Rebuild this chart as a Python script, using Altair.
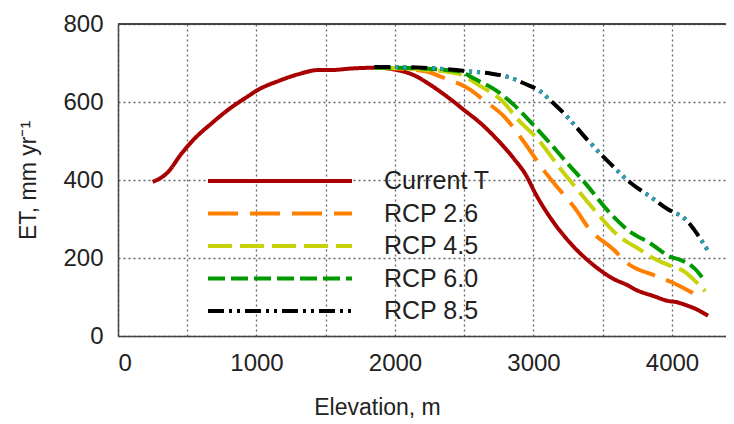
import altair as alt
import pandas as pd

# ---- data ----
series_names = ["Current T", "RCP 2.6", "RCP 4.5", "RCP 6.0", "RCP 8.5"]

elev_current = [250, 360, 455, 555, 675, 795, 940, 1010, 1160, 1300, 1450, 1540, 1690, 1880, 2000,
                2135, 2255, 2375, 2500, 2620, 2740, 2860, 2950, 3010, 3150, 3290, 3440, 3580, 3680,
                3730, 3870, 3970, 4030, 4110, 4180, 4260]
et_current = [395, 420, 466, 507, 545, 580, 615, 631, 654, 671, 682, 682, 686, 688, 683,
              669, 644, 614, 579, 545, 503, 454, 410, 368, 289, 229, 180, 146, 130,
              120, 102, 90, 87, 78, 68, 52]

elev_rcp26 = [1850, 2000, 2230, 2330, 2545, 2640, 2790, 2930, 3076, 3150, 3317, 3390, 3580, 3680,
              3870, 3990, 4100, 4200]
et_rcp26 = [688, 686, 678, 665, 631, 605, 562, 498, 424, 391, 319, 280, 221, 186,
            156, 139, 120, 100]

elev_rcp45 = [1850, 2000, 2250, 2450, 2620, 2790, 2880, 3030, 3200, 3320, 3440, 3610, 3770, 3870,
              3990, 4090, 4170, 4240]
et_rcp45 = [688, 687, 682, 673, 640, 597, 558, 505, 426, 374, 323, 258, 221, 199,
            180, 165, 140, 115]

elev_rcp60 = [1850, 2000, 2300, 2470, 2570, 2740, 2860, 3000, 3110, 3245, 3390, 3520, 3680, 3850,
              3990, 4060, 4160, 4240]
et_rcp60 = [688, 688, 684, 678, 660, 627, 592, 541, 498, 443, 385, 328, 272, 236,
            203, 195, 174, 140]

elev_rcp85 = [1850, 2000, 2200, 2380, 2520, 2690, 2810, 2930, 3050, 3120, 3244, 3389, 3560, 3700,
              3845, 3970, 4064, 4110, 4161, 4257]
et_rcp85 = [690, 690, 688, 684, 679, 673, 665, 648, 627, 605, 562, 503, 440, 393,
            357, 325, 308, 295, 272, 220]

x_ticks = [0, 500, 1000, 1500, 2000, 2500, 3000, 3500, 4000]
y_ticks = [0, 100, 200, 300, 400, 500, 600, 700, 800]

# ---- styles ----
colors = ["#A80000", "#FF8000", "#C8D20A", "#009A00", "#000000"]
dashes = [[1, 0], [30, 12], [24, 8], [17, 6], [16, 5, 3, 5, 3, 5]]
teal = "#2AA5B5"
GRID_COLOR = "#666666"
GRID_DASH = [2, 3]

rows = []
for name, xs, ys in zip(series_names,
                        [elev_current, elev_rcp26, elev_rcp45, elev_rcp60, elev_rcp85],
                        [et_current, et_rcp26, et_rcp45, et_rcp60, et_rcp85]):
    for xv, yv in zip(xs, ys):
        rows.append({"series": name, "elev": xv, "et": yv})
df = pd.DataFrame(rows)

W, H = 608, 312
FONT = "Liberation Sans"

xscale = alt.Scale(domain=[0, 4390], nice=False, zero=False)
yscale = alt.Scale(domain=[0, 800], nice=False)

legend = alt.Legend(
    title=None, orient="none", legendX=88, legendY=142, padding=0,
    symbolSize=20736, symbolStrokeWidth=4, symbolType="stroke",
    clipHeight=30, rowPadding=2.5, labelOffset=30,
    labelFontSize=25, labelFont=FONT, labelColor="#222222", labelLimit=300,
)

x_axis = alt.Axis(
    values=x_ticks, labelExpr="datum.value % 1000 == 0 ? datum.label : ''",
    title="Elevation, m", ticks=False, tickSize=0, labelPadding=34,
    labelBaseline="alphabetic", labelFontSize=24, labelFont=FONT, labelColor="#222222",
    titleFontSize=23, titleFont=FONT, titleFontWeight="normal", titleColor="#222222",
    titleX=259, titleY=78, titleBaseline="alphabetic", titleAlign="center", titleAnchor="start",
    grid=True, gridDash=GRID_DASH, gridColor=GRID_COLOR, gridWidth=1.3, gridOpacity=1,
    domainColor="#444444", domainWidth=1.5, format="d",
)
y_axis = alt.Axis(
    values=y_ticks, labelExpr="datum.value % 200 == 0 ? datum.label : ''",
    title="ET, mm yr\u207b\u00b9", ticks=False, tickSize=0, labelPadding=15,
    labelBaseline="middle", labelFontSize=24, labelFont=FONT, labelColor="#222222",
    titleFontSize=23, titleFont=FONT, titleFontWeight="normal", titleColor="#222222",
    titleX=-83, titleY=156, titleBaseline="alphabetic", titleAlign="center", titleAngle=270,
    grid=True, gridDash=GRID_DASH, gridColor=GRID_COLOR, gridWidth=1.3, gridOpacity=1,
    domainColor="#444444", domainWidth=1.5,
)

lines = alt.Chart(df).mark_line(strokeWidth=4, interpolate="monotone").encode(
    x=alt.X("elev:Q", scale=xscale, axis=x_axis),
    y=alt.Y("et:Q", scale=yscale, axis=y_axis),
    color=alt.Color("series:N", scale=alt.Scale(domain=series_names, range=colors), legend=legend),
    strokeDash=alt.StrokeDash("series:N", scale=alt.Scale(domain=series_names, range=dashes), legend=legend),
    order=alt.Order("series:N"),
)

teal_dots = alt.Chart(df).transform_filter(
    alt.datum.series == "RCP 8.5"
).mark_line(strokeWidth=4, interpolate="monotone", color=teal,
            strokeDash=[3, 5, 3, 26], strokeDashOffset=16).encode(
    x=alt.X("elev:Q", scale=xscale, axis=x_axis),
    y=alt.Y("et:Q", scale=yscale, axis=y_axis),
)

top_border = alt.Chart(df).mark_rule(color="#444444", strokeWidth=1.5).encode(
    y=alt.datum(800), x=alt.value(0), x2=alt.value(W)
)

chart = alt.layer(lines, teal_dots, top_border).properties(
    width=W, height=H,
    autosize=alt.AutoSizeParams(type="none"),
    padding={"left": 110, "top": 16, "right": 0, "bottom": 88},
).configure_view(stroke=None).configure_axis(
    grid=True, gridDash=GRID_DASH, gridColor=GRID_COLOR, gridWidth=1.3, gridOpacity=1
).configure(background="white")

chart.save("out.html", embed_options={"renderer": "svg", "actions": False})
